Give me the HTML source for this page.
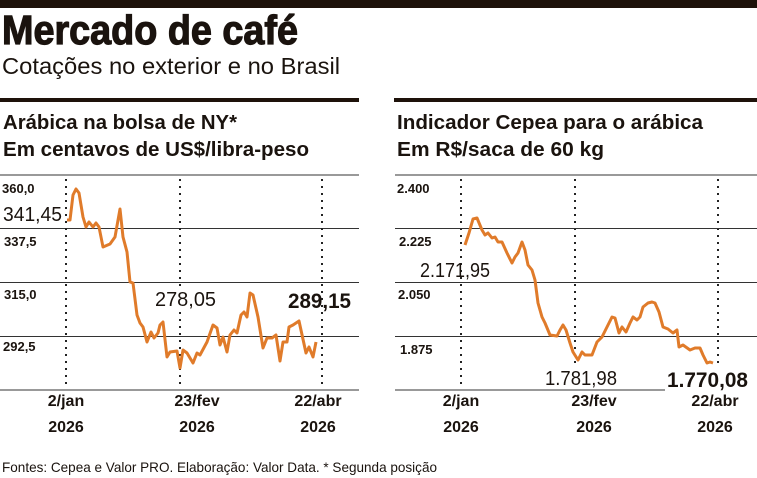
<!DOCTYPE html>
<html><head><meta charset="utf-8"><style>
html,body{margin:0;padding:0;background:#fff;}
svg{display:block;}
text{font-family:"Liberation Sans Narrow","Liberation Sans",sans-serif;fill:#1a130e;}
.b{font-weight:bold;}
</style></head><body>
<svg width="757" height="478" viewBox="0 0 757 478" xmlns="http://www.w3.org/2000/svg">
<rect x="0" y="0" width="757" height="8" fill="#1e120a"/>
<text x="2" y="44" class="b" font-size="41" textLength="296" lengthAdjust="spacingAndGlyphs" stroke="#1a130e" stroke-width="1.2" style="font-family:'Liberation Sans',sans-serif;font-weight:900">Mercado de café</text>
<text x="2" y="74" font-size="23" textLength="338" lengthAdjust="spacingAndGlyphs" fill="#333">Cotações no exterior e no Brasil</text>
<rect x="0" y="98" width="359" height="4" fill="#1e120a"/>
<rect x="394" y="98" width="363" height="4" fill="#1e120a"/>
<g class="b" font-size="20">
<text x="3" y="129" class="b" textLength="234" lengthAdjust="spacingAndGlyphs">Arábica na bolsa de NY*</text>
<text x="3" y="156" class="b" textLength="306" lengthAdjust="spacingAndGlyphs">Em centavos de US$/libra-peso</text>
<text x="397" y="129" class="b" textLength="306" lengthAdjust="spacingAndGlyphs">Indicador Cepea para o arábica</text>
<text x="397" y="156" class="b" textLength="207" lengthAdjust="spacingAndGlyphs">Em R$/saca de 60 kg</text>
</g>
<line x1="0" y1="175" x2="359" y2="175" stroke="#999" stroke-width="2"/>
<line x1="0" y1="228.5" x2="359" y2="228.5" stroke="#333" stroke-width="1"/>
<line x1="0" y1="282.5" x2="359" y2="282.5" stroke="#333" stroke-width="1"/>
<line x1="0" y1="336.5" x2="359" y2="336.5" stroke="#333" stroke-width="1"/>
<line x1="0" y1="390" x2="359" y2="390" stroke="#999" stroke-width="2"/>
<g stroke="#222" stroke-width="2" stroke-dasharray="2,5">
<line x1="66" y1="179" x2="66" y2="384"/><line x1="180" y1="179" x2="180" y2="384"/><line x1="322" y1="179" x2="322" y2="384"/>
<line x1="461" y1="179" x2="461" y2="384"/><line x1="575" y1="179" x2="575" y2="384"/><line x1="718" y1="179" x2="718" y2="384"/>
</g>
<g font-size="13" class="b">
<text x="2" y="193" class="b">360,0</text>
<text x="4" y="246" class="b">337,5</text>
<text x="4" y="299" class="b">315,0</text>
<text x="3" y="351" class="b">292,5</text>
</g>
<polyline fill="none" stroke="#e07b2a" stroke-width="3" stroke-linejoin="round" points="67,220 70,220 73,195 76,189 79,193 83,217 86,227 89,222 93,227 96,223 99,227 103,247 110,244 115,237 120,209 123,237 127,252 130,282 133,283 137,315 140,323 143,327 147,342 151,332 154,338 158,333 160,325 163,322 167,357 170,352 177,351 180,368 183,350 187,353 193,363 197,353 200,355 207,342 213,325 217,328 220,345 223,337 227,352 230,335 234,330 237,333 241,315 244,312 247,317 250,293 253,295 258,317 263,348 267,338 272,338 276,335 280,361 283,342 287,342 289,327 293,325 299,321 306,353 309,347 313,357 316,342"/>
<text x="3" y="221" font-size="20" textLength="59" lengthAdjust="spacingAndGlyphs" fill="#333">341,45</text>
<rect x="153" y="288" width="65" height="22" fill="#fff"/>
<text x="155" y="306" font-size="20" textLength="61" lengthAdjust="spacingAndGlyphs" fill="#333">278,05</text>
<text x="288" y="308" font-size="21" class="b" textLength="63" lengthAdjust="spacingAndGlyphs">289,15</text>
<line x1="395" y1="175" x2="757" y2="175" stroke="#999" stroke-width="2"/>
<line x1="395" y1="228.5" x2="757" y2="228.5" stroke="#333" stroke-width="1"/>
<line x1="395" y1="282.5" x2="757" y2="282.5" stroke="#333" stroke-width="1"/>
<line x1="395" y1="336.5" x2="757" y2="336.5" stroke="#333" stroke-width="1"/>
<line x1="395" y1="390" x2="757" y2="390" stroke="#999" stroke-width="2"/>
<g font-size="13">
<text x="397" y="193" class="b">2.400</text>
<text x="399" y="246" class="b">2.225</text>
<text x="398" y="299" class="b">2.050</text>
<text x="400" y="354" class="b">1.875</text>
</g>
<polyline fill="none" stroke="#e07b2a" stroke-width="3" stroke-linejoin="round" points="465,245 469,233 473,219 477,218 482,230 485,235 488,233 492,238 495,237 498,242 502,242 507,253 512,263 515,257 518,253 522,242 525,250 528,265 532,270 535,280 538,303 542,317 545,323 550,335 557,336 560,330 563,325 566,330 570,343 573,352 578,360 582,352 585,355 592,355 597,342 602,337 607,327 612,317 615,318 619,333 622,327 626,332 630,323 633,317 637,320 640,317 643,307 648,303 652,302 655,303 659,312 663,327 668,329 673,333 677,330 679,347 683,345 690,350 695,348 700,348 703,355 707,363 710,362 713,363"/>
<text x="420" y="277" font-size="20" textLength="70" lengthAdjust="spacingAndGlyphs" fill="#333">2.171,95</text>
<rect x="543" y="367" width="76" height="22" fill="#fff"/>
<text x="545" y="385" font-size="20" textLength="72" lengthAdjust="spacingAndGlyphs" fill="#333">1.781,98</text>
<rect x="665" y="367" width="92" height="25" fill="#fff"/>
<text x="667" y="387" font-size="21" class="b" textLength="81" lengthAdjust="spacingAndGlyphs">1.770,08</text>
<g font-size="16" class="b" text-anchor="middle">
<text x="66" y="406" class="b">2/jan</text><text x="66" y="432" class="b">2026</text>
<text x="197" y="406" class="b">23/fev</text><text x="197" y="432" class="b">2026</text>
<text x="318" y="406" class="b">22/abr</text><text x="318" y="432" class="b">2026</text>
<text x="461" y="406" class="b">2/jan</text><text x="461" y="432" class="b">2026</text>
<text x="594" y="406" class="b">23/fev</text><text x="594" y="432" class="b">2026</text>
<text x="715" y="406" class="b">22/abr</text><text x="715" y="432" class="b">2026</text>
</g>
<text x="2" y="472" font-size="14" textLength="435" lengthAdjust="spacingAndGlyphs" fill="#333">Fontes: Cepea e Valor PRO. Elaboração: Valor Data. * Segunda posição</text>
</svg>
</body></html>
